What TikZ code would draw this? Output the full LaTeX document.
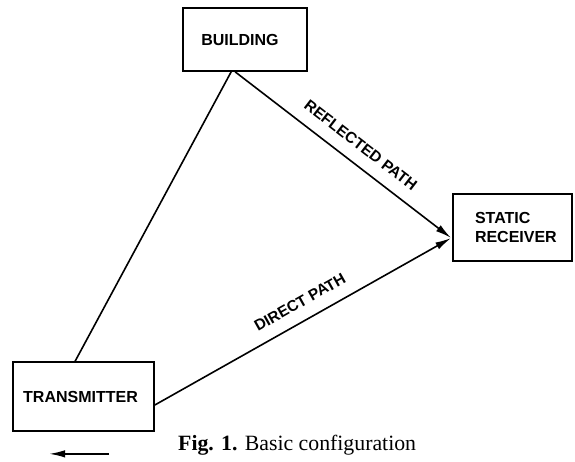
\documentclass[tikz,border=0pt]{standalone}
\usepackage{fontspec}
\setmainfont{Liberation Serif}
\newfontfamily\labfont{Liberation Sans}
\usetikzlibrary{arrows.meta,calc}
\begin{document}
\begin{tikzpicture}[x=1pt,y=-1pt,
  box/.style={draw,line width=1.7pt,inner sep=0pt,font=\labfont\bfseries\fontsize{16}{19}\selectfont},
  conn/.style={line width=1.6pt},
  tip/.style={-{Latex[length=16pt,width=7.5pt]}},
  plabel/.style={sloped,above=12pt,inner sep=0pt,font=\labfont\bfseries\fontsize{15.5}{17}\selectfont}]
\useasboundingbox (0,0) rectangle (575,461);
\node[box,minimum width=124pt,minimum height=63pt] (bld) at (245,39.5) {BUILDING\hspace*{10pt}};
\node[box,minimum width=119pt,minimum height=67pt,align=left,text width=95pt] (rcv) at (512.5,227.5) {\hspace*{10pt}STATIC\\\hspace*{10pt}RECEIVER\\[-5pt]};
\node[box,minimum width=141pt,minimum height=69pt] (tx) at (83.5,396.5) {TRANSMITTER\hspace*{6pt}};
\coordinate (bs1) at ($(bld.south west)+(49,0)$);
\coordinate (bs2) at ($(bld.south west)+(53,0)$);
\coordinate (txn) at ($(tx.north west)+(63,0)$);
\coordinate (txe) at ($(tx.east)+(0,8.5)$);
\coordinate (rin) at ($(rcv.west)+(-1,10.5)$);
\draw[conn] (bs1) -- (txn);
\draw[conn,tip] (bs2) -- node[plabel,pos=0.53] {REFLECTED PATH} (rin);
\draw[conn,tip] (txe) -- node[plabel,pos=0.52] {DIRECT PATH} (rin);
\coordinate (mvs) at ($(tx.south west)+(97,22)$);
\coordinate (mve) at ($(tx.south west)+(37,22)$);
\draw[conn,tip] (mvs) -- (mve);
\node[anchor=base west,inner sep=0pt,font=\fontsize{21.8}{24}\selectfont] (cap) at (178,450) {\textbf{Fig. 1.} Basic configuration};
\end{tikzpicture}
\end{document}
